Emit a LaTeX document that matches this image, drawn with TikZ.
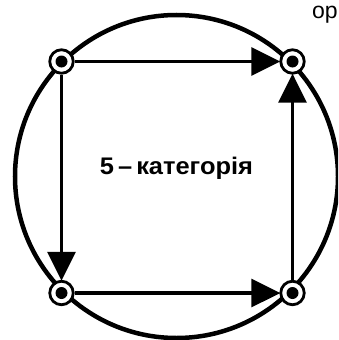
\documentclass[tikz,border=0pt]{standalone}
\usepackage{fontspec}
\setmainfont{Liberation Sans}
\newfontfamily\labfont[FakeStretch=1.06]{Liberation Sans}
\usetikzlibrary{arrows.meta}
\tikzset{
  pt/.style={circle, draw=black, fill=white, line width=2.8pt, minimum size=23.5pt, inner sep=0pt},
  dot/.style={circle, fill=black, minimum size=12pt, inner sep=0pt},
  conn/.style={line width=3.3pt, -{Triangle[length=29pt,width=28pt]}, shorten >=-1pt},
}
\begin{document}
\begin{tikzpicture}[x=1pt,y=-1pt]
\useasboundingbox (0,0) rectangle (338,340);
\clip (0,0) rectangle (338,340);
\fill[white] (0,0) rectangle (338,340);
\draw[line width=4.5pt] (176.5,176.5) circle (161.5);
\node[pt] (tl) at (61.5,61.5) {};
\node[pt] (tr) at (292.5,61.5) {};
\node[pt] (bl) at (61.5,293) {};
\node[pt] (br) at (292.5,293) {};
\foreach \n in {tl,tr,bl,br} \node[dot] at (\n) {};
\draw[conn] (tl) -- (tr);
\draw[conn] (tl) -- (bl);
\draw[conn] (bl) -- (br);
\draw[conn] (br) -- (tr);
\node[anchor=base, font=\labfont\bfseries\fontsize{24}{28}\selectfont, inner sep=0pt] (lab) at (176.5,174) {5\,–\,категорія};
\node[anchor=base west, font=\fontsize{23}{27}\selectfont, inner sep=0pt] (op) at (312,19) {ор};
\end{tikzpicture}
\end{document}
